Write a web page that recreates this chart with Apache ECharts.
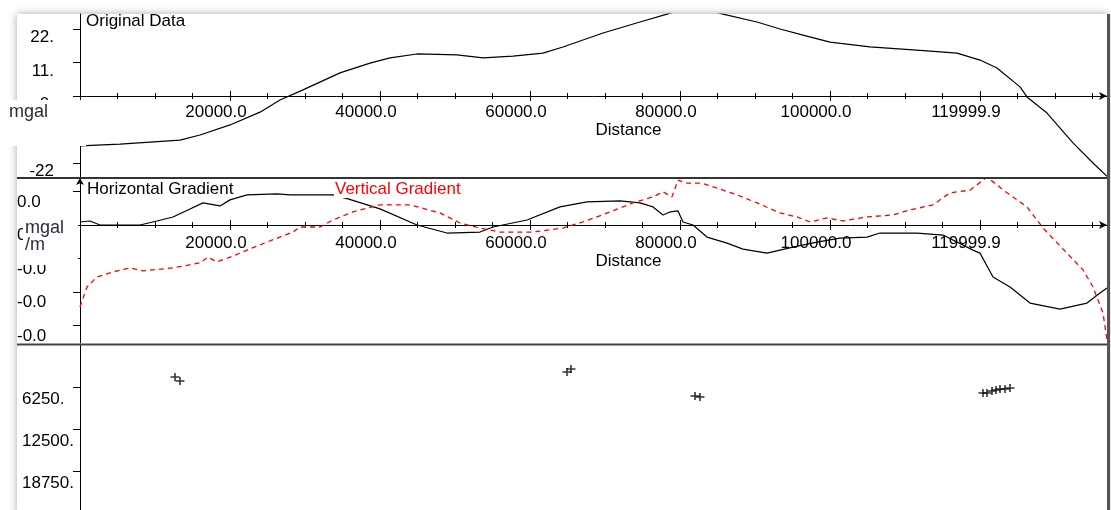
<!DOCTYPE html>
<html><head><meta charset="utf-8">
<script src="https://cdn.jsdelivr.net/npm/echarts@6/dist/echarts.min.js"></script>
<style>html,body{margin:0;padding:0;background:#fff}#c{width:1111px;height:510px}</style>
</head><body><div id="c"></div>
<script>
// ---------- data ----------
const X_MAX = 136933;
const xMajorTicks = [20000, 40000, 60000, 80000, 100000, 120000];
const xMajorLabels = ['20000.0', '40000.0', '60000.0', '80000.0', '100000.0', '119999.9'];
const xMinorTicks = [5000, 10000, 15000, 25000, 30000, 35000, 45000, 50000, 55000, 65000, 70000, 75000,
  85000, 90000, 95000, 105000, 110000, 115000, 125000, 130000, 135000];

const y1Ticks = [22, 11, 0, -11, -22];
const y1Labels = ['22.', '11.', '0.', '-11', '-22'];
const y2Ticks = [0.01, 0, -0.01, -0.02, -0.03];
const y2Labels = ['0.0', '0.0', '-0.0', '-0.0', '-0.0'];
const y3Ticks = [6250, 12500, 18750];
const y3Labels = ['6250.', '12500.', '18750.'];

const origDist = [0, 5333, 13333, 16000, 20000, 24000, 26667, 29733, 34667, 38667, 41333, 44933, 50267, 53733,
  57733, 61733, 64400, 69733, 74667, 78267, 82000, 85733, 90267, 93333, 96400, 100000, 105333, 112933, 116933,
  120000, 122267, 125333, 126267, 128933, 132400, 135067, 136933];
const origVal = [-16.4, -15.8, -14.5, -12.8, -9.5, -5.3, -1.3, 2.0, 7.6, 10.8, 12.5, 13.8, 13.5, 12.5,
  13.1, 14.1, 16.1, 20.7, 24.3, 26.9, 29.5, 26.9, 24.3, 22.0, 20.0, 17.7, 16.1, 14.8, 14.1,
  11.8, 9.2, 3.0, -0.3, -5.6, -15.4, -22.0, -26.4];

const hgDist = [0, 1333, 2667, 8000, 10267, 12400, 14667, 16400, 18667, 20000, 22267, 26267, 28000, 33733, 35733,
  40000, 44933, 48933, 53333, 55067, 59600, 64000, 67600, 72000, 74667, 76400, 77733, 78667, 79733, 80400,
  81733, 83600, 86267, 88400, 91600, 93333, 95067, 98267, 101333, 104933, 106667, 111600, 115067, 119067, 120000,
  121733, 124000, 126667, 130667, 134267, 136000, 136933];
const hgVal = [0.0009, 0.0012, 0, 0, 0.0012, 0.0024, 0.0048, 0.0066, 0.0057, 0.0075, 0.0090, 0.0093, 0.0090, 0.0090, 0.0078,
  0.0048, 0, -0.0024, -0.0021, -0.0006, 0.0015, 0.0054, 0.0069, 0.0072, 0.0066, 0.0054, 0.0030, 0.0039, 0.0042, 0.0009,
  0, -0.0036, -0.0054, -0.0072, -0.0084, -0.0075, -0.0066, -0.0051, -0.0039, -0.0036, -0.0024, -0.0024, -0.0030, -0.0075, -0.0084,
  -0.0155, -0.0185, -0.0233, -0.0251, -0.0233, -0.0203, -0.0188];

const vgDist = [0, 933, 2267, 4400, 6667, 8400, 12400, 16000, 17067, 18267, 20400, 22267, 24933, 28400, 29333,
  32000, 33733, 36400, 40000, 44000, 48000, 50667, 53333, 56000, 60400, 64400, 67067, 70667, 73733, 76400,
  77733, 78933, 79733, 80933, 82933, 85333, 87600, 90267, 93333, 95600, 97333, 99600, 101733, 104933, 108400,
  110667, 113733, 116000, 118667, 120933, 123600, 126267, 128400, 131600, 133733, 135067, 136400, 136933];
const vgVal = [-0.0245, -0.0185, -0.0155, -0.0140, -0.0128, -0.0137, -0.0128, -0.0113, -0.0096, -0.0110, -0.0093, -0.0075, -0.0051, -0.0021, -0.0006,
  -0.0006, 0.0015, 0.0039, 0.0060, 0.0060, 0.0036, 0.0006, -0.0009, -0.0021, -0.0021, -0.0009, 0.0009, 0.0039, 0.0066, 0.0084,
  0.0099, 0.0084, 0.0134, 0.0125, 0.0125, 0.0107, 0.0090, 0.0066, 0.0036, 0.0024, 0.0009, 0.0021, 0.0012, 0.0024, 0.0030,
  0.0045, 0.0060, 0.0096, 0.0104, 0.0143, 0.0096, 0.0054, -0.0009, -0.0084, -0.0134, -0.0185, -0.0263, -0.0343];

const stDist = [12667, 13333, 64933, 65467, 82000, 82667, 120400, 120933, 121600, 122133, 122667, 123333, 124000];
const stDepth = [4762, 5357, 4018, 3571, 7589, 7738, 7143, 7143, 6845, 6696, 6548, 6548, 6399];

// ---------- chart ----------
const FONT = '"Liberation Sans", Arial, sans-serif';
const pairs = (xs, ys) => xs.map((x, i) => [x, ys[i]]);
const lookup = (ticks, labels) => (v) => { const i = ticks.findIndex(t => Math.abs(t - v) < 1e-9); return i >= 0 ? labels[i] : ''; };

// offset: distance (negative = upwards) from grid bottom to the zero line
function xAxesFor(grid, yIdx, offBottom, offTop, labelMargin) {
  const common = { gridIndex: grid, type: 'value', min: 0, max: X_MAX, splitLine: { show: false } };
  const tickStyle = { color: '#000', width: 1 };
  return [
    Object.assign({}, common, {
      position: 'bottom', offset: offBottom,
      axisLine: { show: true, onZero: false, lineStyle: { color: '#000', width: 1 },
        symbol: ['none', 'arrow'], symbolSize: [6, 8] },
      axisTick: { show: true, length: 5, customValues: xMajorTicks, lineStyle: tickStyle },
      axisLabel: { show: true, customValues: xMajorTicks, margin: labelMargin,
        formatter: (v) => '{a|' + lookup(xMajorTicks, xMajorLabels)(v) + '}',
        rich: { a: { fontFamily: FONT, fontSize: 17, color: '#000', padding: [0, 28, 0, 0] } } },
      name: 'Distance', nameLocation: 'middle', nameGap: 25,
      nameTextStyle: { fontFamily: FONT, fontSize: 17, color: '#000', padding: [0, 0, 0, 70] }
    }),
    Object.assign({}, common, {
      position: 'top', offset: offTop,
      axisLine: { show: false, onZero: false },
      axisTick: { show: true, length: 5, customValues: xMajorTicks, lineStyle: tickStyle },
      axisLabel: { show: false }
    }),
    Object.assign({}, common, {
      position: 'bottom', offset: offBottom,
      axisLine: { show: false, onZero: false },
      axisTick: { show: true, length: 3, customValues: xMinorTicks, lineStyle: tickStyle },
      axisLabel: { show: false }
    }),
    Object.assign({}, common, {
      position: 'top', offset: offTop,
      axisLine: { show: false, onZero: false },
      axisTick: { show: true, length: 3, customValues: xMinorTicks, lineStyle: tickStyle },
      axisLabel: { show: false }
    })
  ];
}

const xAxes = [].concat(
  xAxesFor(0, 0, -82, -82, 8),
  xAxesFor(1, 1, -118, -47, 10),
  [{ gridIndex: 2, type: 'value', min: 0, max: X_MAX, show: false }]
);

const yAxes = [
  { gridIndex: 0, type: 'value', min: -26.925, max: 26.925, splitLine: { show: false },
    axisLine: { show: true, onZero: false, lineStyle: { color: '#000' } },
    axisTick: { show: true, length: 7, customValues: y1Ticks, lineStyle: { color: '#000' } },
    axisLabel: { show: true, customValues: y1Ticks, formatter: lookup(y1Ticks, y1Labels), align: 'right', margin: 26,
      verticalAlign: 'top', fontFamily: FONT, fontSize: 17, color: '#000' } },
  { gridIndex: 1, type: 'value', min: -0.03522, max: 0.01403, splitLine: { show: false },
    axisLine: { show: true, onZero: false, lineStyle: { color: '#000' }, symbol: ['none', 'arrow'], symbolSize: [6, 7] },
    axisTick: { show: true, length: 7, customValues: y2Ticks, lineStyle: { color: '#000' } },
    axisLabel: { show: true, customValues: y2Ticks, formatter: lookup(y2Ticks, y2Labels), align: 'left', margin: 63,
      verticalAlign: 'top', padding: [2, 0, 0, 0], fontFamily: FONT, fontSize: 17, color: '#000' } },
  { gridIndex: 2, type: 'value', min: 0, max: 24554, inverse: true, splitLine: { show: false },
    axisLine: { show: true, onZero: false, lineStyle: { color: '#000' } },
    axisTick: { show: true, length: 7, customValues: y3Ticks, lineStyle: { color: '#000' } },
    axisLabel: { show: true, customValues: y3Ticks, formatter: lookup(y3Ticks, y3Labels), align: 'left', margin: 58,
      verticalAlign: 'top', padding: [4, 0, 0, 0], fontFamily: FONT, fontSize: 17, color: '#000' } }
];

const chart = echarts.init(document.getElementById('c'), null, { renderer: 'canvas' });
chart.setOption({
  animation: false,
  backgroundColor: '#fff',
  grid: [
    { left: 80, top: 14, width: 1027, height: 164 },
    { left: 80, top: 178, width: 1027, height: 165 },
    { left: 80, top: 345, width: 1027, height: 165 }
  ],
  xAxis: xAxes,
  yAxis: yAxes,
  series: [
    { name: 'Original Data', type: 'line', xAxisIndex: 0, yAxisIndex: 0, data: pairs(origDist, origVal),
      showSymbol: false, lineStyle: { color: '#000', width: 1.2 }, clip: true },
    { name: 'Horizontal Gradient', type: 'line', xAxisIndex: 4, yAxisIndex: 1, data: pairs(hgDist, hgVal),
      showSymbol: false, lineStyle: { color: '#000', width: 1.2 }, clip: true },
    { name: 'Vertical Gradient', type: 'line', xAxisIndex: 4, yAxisIndex: 1, data: pairs(vgDist, vgVal),
      showSymbol: false, lineStyle: { color: '#ff0000', width: 1.3, type: [5, 4] }, clip: true },
    { name: 'Stations', type: 'scatter', xAxisIndex: 8, yAxisIndex: 2, data: pairs(stDist, stDepth),
      symbol: 'path://M0,5L10,5M5,0L5,10', symbolSize: [9, 8],
      itemStyle: { color: 'rgba(0,0,0,0)', borderColor: '#000', borderWidth: 1.5 } }
  ],
  graphic: [
    { type: 'rect', z: -10, shape: { x: 17, y: 14, width: 1091, height: 500 },
      style: { fill: '#fff', shadowBlur: 8, shadowColor: 'rgba(0,0,0,0.35)' } },
    { type: 'line', z: 40, shape: { x1: 17, y1: 178, x2: 1107, y2: 178 }, style: { stroke: '#333', lineWidth: 2 } },
    { type: 'line', z: 40, shape: { x1: 17, y1: 344.5, x2: 1107, y2: 344.5 }, style: { stroke: '#444', lineWidth: 2 } },
    { type: 'line', z: 40, shape: { x1: 1108.5, y1: 14, x2: 1108.5, y2: 510 }, style: { stroke: '#555', lineWidth: 3 } },
    { type: 'text', z: 45, style: { text: 'Original Data', x: 86, y: 13, font: '17px ' + FONT, fill: '#000', textVerticalAlign: 'top' } },
    { type: 'text', z: 45, style: { text: 'Horizontal Gradient', x: 86, y: 180, font: '17px ' + FONT, fill: '#000',
      textVerticalAlign: 'top', backgroundColor: '#fff', padding: [1, 1, 0, 1] } },
    { type: 'text', z: 45, style: { text: 'Vertical Gradient', x: 334, y: 180, font: '17px ' + FONT, fill: '#ff0000',
      textVerticalAlign: 'top', backgroundColor: '#fff', padding: [1, 1, 0, 1] } },
    { type: 'rect', z: 50, shape: { x: 0, y: 100, width: 86, height: 46 }, style: { fill: '#fff' } },
    { type: 'text', z: 51, style: { text: 'mgal', x: 9, y: 103, font: '18px ' + FONT, fill: '#2b2b3b', textVerticalAlign: 'top' } },
    { type: 'rect', z: 50, shape: { x: 23, y: 221, width: 55, height: 44 }, style: { fill: '#fff' } },
    { type: 'text', z: 51, style: { text: 'mgal', x: 25, y: 219, font: '18px ' + FONT, fill: '#2b2b3b', textVerticalAlign: 'top' } },
    { type: 'text', z: 51, style: { text: '/m', x: 25, y: 236, font: '18px ' + FONT, fill: '#2b2b3b', textVerticalAlign: 'top' } }
  ]
});
</script>
</body></html>
